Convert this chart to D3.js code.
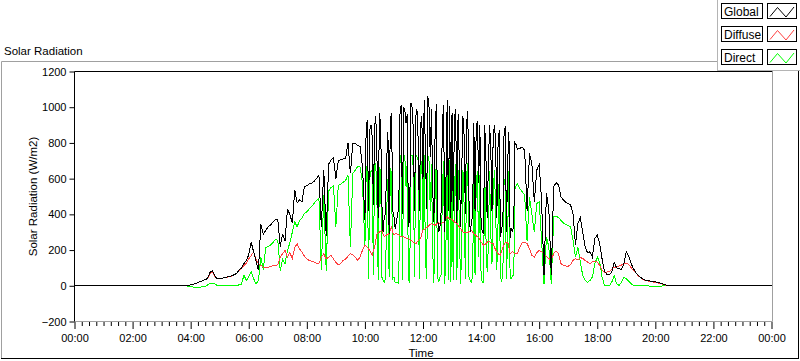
<!DOCTYPE html>
<html><head><meta charset="utf-8">
<script src="https://cdn.jsdelivr.net/npm/d3@7"></script>
<style>
html,body{margin:0;padding:0;background:#fff;}
svg{display:block;font-family:"Liberation Sans",Arial,sans-serif;}
</style></head><body>
<svg id="chart" width="800" height="361"></svg>
<script>
// ---- data (W/m2), 5-minute samples starting 03:50 ----
const seriesNames = ["Global", "Diffuse", "Direct"];
const seriesColors = ["#000000", "#ff4040", "#00ff00"];
const dayStartHour = 3 + 50 / 60;
const stepMinutes = 5;

const globalRad = [
  0, 2,
  5, 9, 13, 18, 24, 29, 34, 42, 75, 86, 55, 38,
  40, 42, 45, 49, 52, 56, 62, 70, 88, 100, 125, 140,
  175, 245, 190, 140, 86, 345, 290, 310, 330, 340, 358, 370,
  372, 220, 292, 250, 430, 400, 350, 536, 465, 480, 470, 555,
  560, 570, 575, 585, 600, 620, 330, 650, 280, 680, 705, 715,
  600, 700, 705, 710, 712, 800, 630, 798, 798, 785, 780, 667,
  367, 930, 870, 836, 892, 700, 967, 461, 386, 705, 292, 967,
  386, 360, 442, 1015, 1000, 911, 330, 1023, 873, 948, 817, 900,
  600, 761, 1061, 723, 540, 854, 386, 330, 911, 300, 1042, 1004,
  967, 940, 349, 700, 640, 836, 911, 480, 349, 911, 900, 573,
  349, 292, 723, 667, 780, 830, 817, 780, 273, 349, 892, 700,
  270, 300, 800, 765, 770, 775, 760, 420, 742, 680, 470, 648,
  677, 480, 60, 520, 424, 60, 555, 577, 565, 498, 480, 468,
  461, 452, 400, 230, 349, 380, 300, 217, 185, 190, 160, 265,
  283, 236, 150, 80, 64, 64, 75, 133, 100, 96, 90, 124,
  190, 165, 125, 95, 72, 58, 46, 36, 31, 28, 26, 24,
  22, 18, 15, 10, 6, 3, 0, 0, 0, 0, 0, 0, 0
];
const diffuseRad = [
  0, 2,
  5, 9, 13, 18, 24, 29, 34, 40, 68, 77, 52, 38,
  40, 42, 45, 48, 52, 55, 60, 68, 85, 95, 114, 125,
  150, 170, 189, 150, 125, 114, 105, 105, 104, 108, 114, 114,
  118, 160, 180, 199, 161, 185, 152, 215, 236, 205, 189, 165,
  150, 142, 138, 133, 126, 124, 160, 180, 150, 160, 172, 150,
  130, 118, 124, 142, 150, 165, 180, 175, 160, 142, 160, 200,
  227, 217, 199, 172, 217, 290, 300, 311, 274, 285, 292, 330,
  283, 292, 285, 274, 274, 268, 264, 255, 245, 236, 250, 265,
  311, 320, 330, 345, 345, 339, 349, 350, 352, 358, 386, 377,
  370, 358, 349, 330, 311, 295, 300, 302, 311, 292, 280, 270,
  245, 227, 236, 250, 240, 236, 200, 180, 170, 217, 240, 245,
  180, 190, 180, 180, 217, 240, 245, 236, 208, 170, 161, 186,
  199, 190, 180, 165, 152, 142, 180, 195, 180, 124, 114, 111,
  109, 120, 142, 152, 146, 157, 154, 142, 133, 124, 135, 139,
  133, 114, 86, 77, 77, 80, 92, 105, 105, 110, 116, 124,
  127, 120, 101, 86, 71, 56, 45, 34, 30, 26, 24, 21,
  20, 16, 13, 9, 5, 2
];
const directRad = [
  0, -3,
  -6, -7, -7, -7, -7, -6, -6, 5, 12, 15, 10, 2,
  0, 0, 0, 0, 0, 0, 1, 2, 5, 8, 60, 30,
  50, 80, 40, 10, 30, 160, 90, 215, 220, 228, 242, 258,
  255, 86, 150, 124, 199, 240, 300, 358, 330, 367, 380, 405,
  414, 430, 445, 461, 478, 490, 90, 510, 85, 530, 550, 560,
  330, 560, 570, 580, 590, 620, 217, 630, 648, 667, 665, 573,
  217, 686, 600, 648, 686, 450, 667, 49, 20, 420, 49, 630,
  49, 20, 15, 740, 735, 555, 30, 733, 660, 733, 700, 660,
  300, 161, 733, 420, 200, 520, 49, 49, 536, 11, 723, 705,
  560, 560, 30, 350, 200, 450, 611, 49, 20, 611, 592, 161,
  49, 20, 274, 217, 300, 500, 442, 350, 49, 60, 555, 300,
  40, 60, 540, 573, 545, 527, 508, 250, 498, 400, 300, 461,
  470, 255, 11, 274, 217, 11, 386, 390, 382, 367, 352, 343,
  339, 330, 255, 161, 217, 133, 58, 30, 20, 30, 49, 124,
  161, 133, 49, 2, 0, 0, 20, 58, 11, 2, 20, 49,
  40, 26, 11, 2, 0, 0, 0, 0, 0, -1, -2, -2,
  -2, -2, -2, -1, -1, -1
];

// extra half-step samples (every 5 min, offset 2.5 min) during the cloudy midday 10:02:30 - 15:12:30
const midStartHour = 10 + 2.5 / 60;
const globalMid = [
  880, 420, 900, 450, 950, 380, 900, 300, 400, 860, 930, 420,
  320, 400, 960, 400, 980, 960, 380, 1000, 420, 990, 420, 950,
  1040, 430, 1000, 990, 360, 1020, 300, 420, 1010, 600, 420, 380,
  420, 990, 960, 330, 950, 400, 980, 300, 400, 420, 920, 900,
  300, 900, 380, 900, 420, 900, 380, 870, 320, 860, 300, 860,
  320, 350, 790
];
const diffuseMid = [
  222, 205, 185, 195, 255, 298, 306, 290, 280, 288, 312, 300,
  290, 288, 280, 276, 270, 266, 258, 250, 240, 244, 258, 290,
  316, 326, 338, 348, 342, 345, 352, 350, 355, 372, 380, 374,
  364, 352, 340, 320, 302, 298, 300, 306, 300, 286, 276, 258,
  236, 230, 244, 246, 238, 218, 190, 174, 195, 230, 244, 212,
  185, 186, 180
];
const directMid = [
  620, 40, 640, 60, 680, 30, 640, 30, 40, 600, 660, 40,
  15, 20, 690, 30, 720, 700, 20, 730, 50, 720, 40, 700,
  730, 40, 700, 680, 15, 700, 20, 60, 700, 250, 30, 20,
  30, 680, 650, 10, 650, 40, 690, 30, 60, 60, 640, 620,
  20, 640, 80, 640, 120, 650, 90, 620, 30, 600, 40, 640,
  40, 60, 560
];

const nightLevel = 0;               // value outside the measured day
const yTickValues = [-200, 0, 200, 400, 600, 800, 1000, 1200];
const xMajorHours = [0, 2, 4, 6, 8, 10, 12, 14, 16, 18, 20, 22, 24];
const xMinorStepHours = 0.25;
const titleText = "Solar Radiation";
const yLabelText = "Solar Radiation (W/m2)";
const xLabelText = "Time";

// ---- layout ----
const svg = d3.select("#chart");
const plot = {left: 74.5, right: 771.5, top: 71.5, bottom: 321.5};
const x = d3.scaleLinear().domain([0, 24]).range([plot.left, plot.right]);
const y = d3.scaleLinear().domain([-200, 1200]).range([plot.bottom, plot.top]);

function toPoints(arr, start) {
  return arr.map((v, i) => ({t: start + i * stepMinutes / 60, v}));
}
function merged(main, mid) {
  return toPoints(main, dayStartHour).concat(toPoints(mid, midStartHour)).sort((a, b) => a.t - b.t);
}
const globalPts = [{t: 0, v: nightLevel}, ...merged(globalRad, globalMid), {t: 24, v: nightLevel}];
const diffusePts = merged(diffuseRad, diffuseMid);
const directPts = merged(directRad, directMid);

// outer panel frame
svg.append("line").attr("x1", 1.5).attr("y1", 61.5).attr("x2", 717).attr("y2", 61.5).attr("stroke", "#a0a0a0");
svg.append("line").attr("x1", 1.5).attr("y1", 61.5).attr("x2", 1.5).attr("y2", 358.5).attr("stroke", "#a0a0a0");
svg.append("line").attr("x1", 1).attr("y1", 358.5).attr("x2", 799).attr("y2", 358.5).attr("stroke", "#000");
svg.append("line").attr("x1", 798.5).attr("y1", 71).attr("x2", 798.5).attr("y2", 359).attr("stroke", "#000");

// title
svg.append("text").attr("x", 4).attr("y", 55).attr("font-size", 11.5).attr("fill", "#000").text(titleText);

// plot background + clip
svg.append("rect").attr("x", plot.left).attr("y", plot.top).attr("width", plot.right - plot.left + 1).attr("height", plot.bottom - plot.top).attr("fill", "#fff");
svg.append("defs").append("clipPath").attr("id", "clip").append("rect")
  .attr("x", plot.left + 0.5).attr("y", plot.top + 0.5).attr("width", plot.right - plot.left).attr("height", plot.bottom - plot.top - 1);

// series lines (Direct, Diffuse underneath, Global on top)
const lineGen = d3.line().x(d => x(d.t)).y(d => y(d.v));
const g = svg.append("g").attr("clip-path", "url(#clip)");
[[directPts, 2], [diffusePts, 1], [globalPts, 0]].forEach(([pts, k]) => {
  g.append("path").datum(pts).attr("d", lineGen).attr("fill", "none")
    .attr("stroke", seriesColors[k]).attr("stroke-width", 1)
    .attr("shape-rendering", "crispEdges");
});

// frame lines
svg.append("line").attr("x1", plot.left).attr("y1", plot.top).attr("x2", plot.right + 1).attr("y2", plot.top).attr("stroke", "#000");
svg.append("line").attr("x1", plot.right + 1).attr("y1", plot.top).attr("x2", plot.right + 1).attr("y2", plot.bottom).attr("stroke", "#a0a0a0");
svg.append("line").attr("x1", plot.left).attr("y1", plot.bottom).attr("x2", plot.right + 1).attr("y2", plot.bottom).attr("stroke", "#a0a0a0");
svg.append("line").attr("x1", plot.left).attr("y1", plot.top).attr("x2", plot.left).attr("y2", plot.bottom).attr("stroke", "#000");

// y axis
const yAxis = d3.axisLeft(y).tickValues(yTickValues).tickSize(5).tickPadding(3).tickFormat(d3.format("d"));
const gy = svg.append("g").attr("transform", `translate(${plot.left},0)`).call(yAxis);
gy.select(".domain").remove();
gy.selectAll(".tick line").attr("stroke", "#000");
gy.selectAll(".tick text").attr("font-size", 11).attr("fill", "#000").attr("font-family", "Liberation Sans, Arial, sans-serif");

// x axis (major + minor)
const fmtHour = h => String(h % 24).padStart(2, "0") + ":00";
const xMinor = d3.range(0, 24 + 1e-9, xMinorStepHours).filter(h => !xMajorHours.includes(h));
const gxm = svg.append("g").attr("transform", `translate(0,${plot.bottom + 0.5})`)
  .call(d3.axisBottom(x).tickValues(xMinor).tickSize(4).tickFormat(""));
gxm.select(".domain").remove();
gxm.selectAll(".tick line").attr("stroke", "#000");
const gx = svg.append("g").attr("transform", `translate(0,${plot.bottom + 0.5})`)
  .call(d3.axisBottom(x).tickValues(xMajorHours).tickSize(7).tickPadding(5).tickFormat(fmtHour));
gx.select(".domain").remove();
gx.selectAll(".tick line").attr("stroke", "#000");
gx.selectAll(".tick text").attr("font-size", 11).attr("fill", "#000").attr("font-family", "Liberation Sans, Arial, sans-serif");

// axis labels
svg.append("text").attr("x", (plot.left + plot.right) / 2 - 2).attr("y", 356.5).attr("text-anchor", "middle")
  .attr("font-size", 11.5).attr("fill", "#000").text(xLabelText);
svg.append("text").attr("transform", `translate(36.5,${(plot.top + plot.bottom) / 2}) rotate(-90)`)
  .attr("text-anchor", "middle").attr("font-size", 11.5).attr("fill", "#000").text(yLabelText);

// legend
const lg = svg.append("g");
lg.append("rect").attr("x", 717.5).attr("y", -1).attr("width", 90).attr("height", 71.5).attr("fill", "#fff").attr("stroke", "#b4b4b4");
seriesNames.forEach((name, i) => {
  const top = 3.5 + i * 23;
  lg.append("rect").attr("x", 721.5).attr("y", top).attr("width", 41).attr("height", 15).attr("fill", "#fff").attr("stroke", "#000");
  lg.append("text").attr("x", 724).attr("y", top + 12.5).attr("font-size", 12).attr("fill", "#000").text(name);
  lg.append("rect").attr("x", 767.5).attr("y", top).attr("width", 29).attr("height", 15).attr("fill", "#fff").attr("stroke", "#000");
  const zz = [[770, top + 13], [777.5, top + 4], [786, top + 13.5], [794, top + 3.5]];
  lg.append("path").attr("d", d3.line()(zz)).attr("fill", "none").attr("stroke", seriesColors[i]).attr("stroke-width", 1);
});
</script>
</body></html>
